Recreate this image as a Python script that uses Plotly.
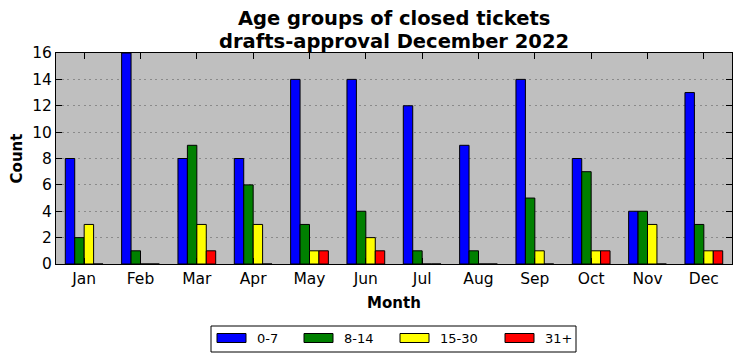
import plotly.graph_objects as go

months = ["Jan", "Feb", "Mar", "Apr", "May", "Jun", "Jul", "Aug", "Sep", "Oct", "Nov", "Dec"]
age_0_7 = [8, 16, 8, 8, 14, 14, 12, 9, 14, 8, 4, 13]
age_8_14 = [2, 1, 9, 6, 3, 4, 1, 1, 5, 7, 4, 3]
age_15_30 = [3, 0, 3, 3, 1, 2, 0, 0, 1, 1, 3, 1]
age_31_plus = [0, 0, 1, 0, 1, 1, 0, 0, 0, 1, 0, 1]
series_names = ["0-7", "8-14", "15-30", "31+"]
series_colors = ["#0000ff", "#008000", "#ffff00", "#ff0000"]
y_ticks = [0, 2, 4, 6, 8, 10, 12, 14, 16]
title_lines = ["Age groups of closed tickets", "drafts-approval December 2022"]

# the page body has an 8px default margin, so the figure is drawn offset by 8px
OFF = 8
W, H = 741 - OFF, 361 - OFF
# plot area in page pixels: x 56..732, y 53..264
ML, MR, MT, MB = 56 - OFF, 741 - 732, 53 - OFF, 361 - 264
PW, PH = W - ML - MR, H - MT - MB

def px(x):
    return (x - OFF - ML) / PW

def py(y):
    return (H - MB - (y - OFF)) / PH

fig = go.Figure()
for name, vals, col in zip(series_names, [age_0_7, age_8_14, age_15_30, age_31_plus], series_colors):
    fig.add_trace(go.Bar(
        x=list(range(len(months))), y=vals, name=name,
        marker=dict(color=col, line=dict(color="black", width=1)),
        showlegend=False,
    ))

font = "DejaVu Sans, Arial, sans-serif"
fig.update_layout(
    width=W, height=H,
    margin=dict(l=ML, r=MR, t=MT, b=MB, autoexpand=False),
    paper_bgcolor="white",
    plot_bgcolor="#bfbfbf",
    barmode="group",
    bargap=0.33,
    bargroupgap=0,
    font=dict(family=font, color="black", size=15),
)
fig.update_xaxes(
    range=[-0.5, 11.5], automargin=False,
    tickmode="array", tickvals=list(range(len(months))), ticktext=months,
    ticks="inside", ticklen=6, tickcolor="black",
    showline=True, linecolor="black", linewidth=1, mirror="ticks",
    showgrid=False, zeroline=False,
    title=dict(text="<b>Month</b>", font=dict(size=15), standoff=10),
    tickfont=dict(size=15.5),
)
fig.update_yaxes(
    range=[0, 16], automargin=False,
    tickmode="array", tickvals=y_ticks,
    ticks="inside", ticklen=6, tickcolor="black",
    showline=True, linecolor="black", linewidth=1, mirror="ticks",
    showgrid=True, gridcolor="#8a8a8a", griddash="2px,3.5px", gridwidth=1,
    zeroline=False,
    title=dict(text="<b>Count</b>", font=dict(size=15), standoff=5),
    tickfont=dict(size=15.5),
)

# title as two centred lines
for line, yc in zip(title_lines, [19, 41]):
    fig.add_annotation(xref="paper", yref="paper", x=px(394), y=py(yc),
                       text="<b>" + line + "</b>", showarrow=False,
                       xanchor="center", yanchor="middle",
                       font=dict(size=19.5, family=font))

# manual legend (matplotlib-style wide swatches)
box_x0, box_x1, box_y0, box_y1 = 211, 576, 326, 352
fig.add_shape(type="rect", xref="paper", yref="paper",
              x0=px(box_x0), x1=px(box_x1), y0=py(box_y1), y1=py(box_y0),
              line=dict(color="black", width=1), fillcolor="white")
sw_x = [217, 304, 400, 505]
for sx, name, col in zip(sw_x, series_names, series_colors):
    fig.add_shape(type="rect", xref="paper", yref="paper",
                  x0=px(sx), x1=px(sx + 29), y0=py(342.5), y1=py(333.5),
                  line=dict(color="black", width=1), fillcolor=col)
    fig.add_annotation(xref="paper", yref="paper", x=px(sx + 38), y=py(338),
                       text=name, showarrow=False, xanchor="left", yanchor="middle",
                       font=dict(size=13, family=font))

fig.write_html("out.html")
